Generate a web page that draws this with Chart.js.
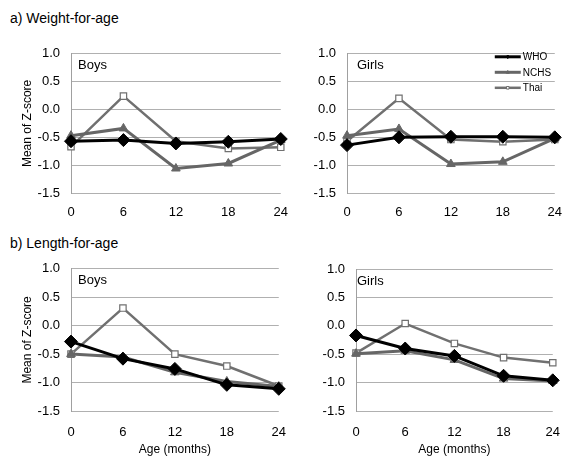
<!DOCTYPE html>
<html>
<head>
<title>Z-score by age</title>
<script src="https://cdn.jsdelivr.net/npm/chart.js"></script>
<style>
  body { margin: 0; background: #fff; font-family: "Liberation Sans", Arial, sans-serif; }
  #wrap { position: relative; width: 574px; height: 457px; overflow: hidden; }
  canvas { position: absolute; }
  .ptitle { position: absolute; left: 10px; font-size: 14px; color: #000; line-height: 16px; }
</style>
</head>
<body>
<div id="wrap">
  <div class="ptitle" style="top: 10px">a) Weight-for-age</div>
  <div class="ptitle" style="top: 235px">b) Length-for-age</div>
  <canvas id="waBoys" width="300" height="195" style="left:0; top:35px"></canvas>
  <canvas id="waGirls" width="284" height="195" style="left:290px; top:35px"></canvas>
  <canvas id="laBoys" width="300" height="207" style="left:0; top:250px"></canvas>
  <canvas id="laGirls" width="284" height="207" style="left:290px; top:250px"></canvas>
</div>

<script>
// ages (months) on the x axis
const ages = [0, 6, 12, 18, 24];
const seriesNames = ["WHO", "NCHS", "Thai"];
const yTicks = [1.0, 0.5, 0.0, -0.5, -1.0, -1.5];

// a) weight-for-age
const waBoysWHO = [-0.57, -0.55, -0.61, -0.58, -0.53];
const waBoysNCHS = [-0.47, -0.34, -1.06, -0.97, -0.55];
const waBoysThai = [-0.67, 0.24, -0.57, -0.70, -0.68];
const waGirlsWHO = [-0.64, -0.50, -0.49, -0.49, -0.50];
const waGirlsNCHS = [-0.47, -0.35, -0.98, -0.94, -0.52];
const waGirlsThai = [-0.57, 0.20, -0.54, -0.58, -0.54];

// b) length-for-age
const laBoysWHO = [-0.28, -0.58, -0.76, -1.04, -1.11];
const laBoysNCHS = [-0.50, -0.55, -0.82, -0.98, -1.07];
const laBoysThai = [-0.50, 0.31, -0.50, -0.71, -1.06];
const laGirlsWHO = [-0.17, -0.40, -0.53, -0.88, -0.96];
const laGirlsNCHS = [-0.49, -0.44, -0.60, -0.93, -0.97];
const laGirlsThai = [-0.48, 0.04, -0.31, -0.56, -0.65];

const FONT = "'Liberation Sans', Arial, sans-serif";

function toPoints(vals) {
  return ages.map(function (a, i) { return { x: a, y: vals[i] }; });
}

function makeDatasets(who, nchs, thai) {
  return [
    {
      label: seriesNames[0], data: toPoints(who),
      borderColor: "#000", backgroundColor: "#000", borderWidth: 3,
      pointStyle: "rectRot", pointRadius: 6.5, pointBorderWidth: 1,
      pointBackgroundColor: "#000", pointBorderColor: "#000"
    },
    {
      label: seriesNames[1], data: toPoints(nchs),
      borderColor: "#666", backgroundColor: "#666", borderWidth: 3,
      pointStyle: "triangle", pointRadius: 5, pointBorderWidth: 1,
      pointBackgroundColor: "#666", pointBorderColor: "#666"
    },
    {
      label: seriesNames[2], data: toPoints(thai),
      borderColor: "#707070", backgroundColor: "#fff", borderWidth: 2.5,
      pointStyle: "rect", pointRadius: 4.5, pointBorderWidth: 1.2,
      pointBackgroundColor: "#fff", pointBorderColor: "#707070"
    }
  ];
}

// writes the sex label in the top-left corner of the plot
const panelLabel = {
  id: "panelLabel",
  afterDraw: function (chart, args, opts) {
    const ctx = chart.ctx, a = chart.chartArea;
    ctx.save();
    ctx.font = "13px " + FONT;
    ctx.fillStyle = "#000";
    ctx.textBaseline = "middle";
    ctx.fillText(opts.text, a.left + opts.dx, a.top + opts.dy);
    ctx.restore();
  }
};

// small legend in the top-right corner
const cornerLegend = {
  id: "cornerLegend",
  afterDraw: function (chart, args, opts) {
    if (!opts.show) return;
    const ctx = chart.ctx, a = chart.chartArea;
    const x0 = a.right - 60, x1 = a.right - 34;
    chart.data.datasets.forEach(function (ds, i) {
      const y = a.top + 3 + i * 15.5;
      ctx.save();
      ctx.strokeStyle = ds.borderColor;
      ctx.lineWidth = ds.borderWidth;
      ctx.beginPath(); ctx.moveTo(x0, y); ctx.lineTo(x1, y); ctx.stroke();
      ctx.fillStyle = ds.pointBackgroundColor;
      ctx.strokeStyle = ds.pointBorderColor;
      ctx.lineWidth = 1;
      Chart.helpers.drawPoint(ctx, {
        pointStyle: ds.pointStyle, radius: 1.8, borderWidth: 1, rotation: 0
      }, (x0 + x1) / 2, y);
      ctx.font = "10px " + FONT;
      ctx.fillStyle = "#000";
      ctx.textBaseline = "middle";
      ctx.fillText(ds.label, x1 + 2, y + 0.5);
      ctx.restore();
    });
  }
};

function drawPanel(id, sets, cfg) {
  new Chart(document.getElementById(id), {
    type: "line",
    data: { datasets: sets },
    plugins: [panelLabel, cornerLegend],
    options: {
      responsive: false,
      animation: false,
      clip: false,
      layout: { padding: { top: cfg.padTop, right: cfg.padRight, left: 0, bottom: 0 } },
      plugins: {
        legend: { display: false },
        tooltip: { enabled: false },
        panelLabel: { text: cfg.label, dx: cfg.labelDx, dy: 12 },
        cornerLegend: { show: !!cfg.legend }
      },
      scales: {
        x: {
          type: "linear", min: 0, max: 24,
          afterBuildTicks: function (s) { s.ticks = ages.map(function (v) { return { value: v }; }); },
          grid: { display: false, drawTicks: false },
          border: { display: false },
          ticks: { padding: cfg.xPad, color: "#000", font: { family: FONT, size: 13 }, maxRotation: 0 },
          title: {
            display: !!cfg.xTitle, text: "Age (months)", color: "#000",
            font: { family: FONT, size: 12 }, padding: { top: 0, bottom: 0 }
          },
          afterFit: function (s) { s.height = cfg.xHeight; }
        },
        y: {
          min: -1.5, max: 1.0,
          afterBuildTicks: function (s) { s.ticks = yTicks.map(function (v) { return { value: v }; }); },
          grid: { color: "#b0b0b0", lineWidth: 1, drawTicks: false },
          border: { display: true, color: "#a0a0a0", width: 1 },
          ticks: {
            padding: 11, color: "#000", font: { family: FONT, size: 13 },
            callback: function (v) { return v.toFixed(1); }
          },
          title: {
            display: !!cfg.yTitle, text: "Mean of Z-score", color: "#000",
            font: { family: FONT, size: 12 }, padding: { top: 20, bottom: 0 }
          },
          afterFit: function (s) { s.width = cfg.yWidth; }
        }
      }
    }
  });
}

drawPanel("waBoys", makeDatasets(waBoysWHO, waBoysNCHS, waBoysThai),
  { padTop: 15, padRight: 11, yWidth: 71, xHeight: 37, xPad: 12, label: "Boys", labelDx: 7, yTitle: true });
drawPanel("waGirls", makeDatasets(waGirlsWHO, waGirlsNCHS, waGirlsThai),
  { padTop: 15, padRight: 7, yWidth: 57, xHeight: 37, xPad: 12, label: "Girls", labelDx: 10, legend: true });
drawPanel("laBoys", makeDatasets(laBoysWHO, laBoysNCHS, laBoysThai),
  { padTop: 17, padRight: 11, yWidth: 71, xHeight: 46, xPad: 14, label: "Boys", labelDx: 7, yTitle: true, xTitle: true });
drawPanel("laGirls", makeDatasets(laGirlsWHO, laGirlsNCHS, laGirlsThai),
  { padTop: 19, padRight: 9, yWidth: 66, xHeight: 46, xPad: 14, label: "Girls", labelDx: 1, xTitle: true });
</script>
</body>
</html>
